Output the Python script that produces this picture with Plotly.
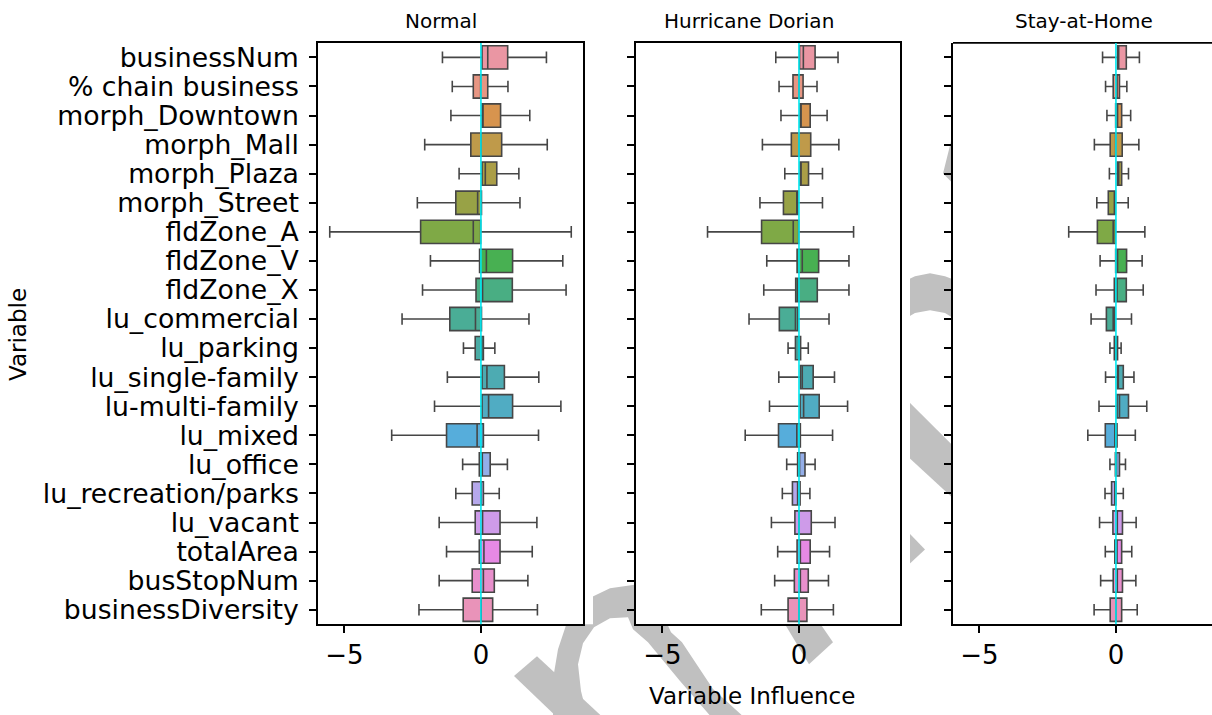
import math
import colorsys
import plotly.graph_objects as go

# ---------------- data ----------------
categories = ["businessNum", "% chain business", "morph_Downtown", "morph_Mall",
              "morph_Plaza", "morph_Street", "fldZone_A", "fldZone_V", "fldZone_X",
              "lu_commercial", "lu_parking", "lu_single-family", "lu-multi-family",
              "lu_mixed", "lu_office", "lu_recreation/parks", "lu_vacant",
              "totalArea", "busStopNum", "businessDiversity"]
panel_titles = ["Normal", "Hurricane Dorian", "Stay-at-Home"]

normal_low = [-1.41, -1.05, -1.10, -2.06, -0.80, -2.33, -5.54, -1.85, -2.14, -2.89,
              -0.64, -1.23, -1.70, -3.27, -0.67, -0.92, -1.53, -1.26, -1.53, -2.27]
normal_q1 = [0.04, -0.28, 0.04, -0.37, 0.04, -0.92, -2.21, -0.05, -0.18, -1.14,
             -0.21, 0.04, 0.04, -1.26, -0.06, -0.32, -0.21, -0.06, -0.32, -0.65]
normal_med = [0.25, -0.01, 0.06, 0.00, 0.16, -0.12, -0.28, 0.20, 0.06, -0.20,
              0.02, 0.22, 0.28, -0.14, 0.05, 0.01, 0.06, 0.11, 0.09, 0.01]
normal_q3 = [0.98, 0.25, 0.72, 0.76, 0.58, 0.02, -0.01, 1.16, 1.15, 0.02,
             0.09, 0.86, 1.16, 0.09, 0.34, 0.09, 0.70, 0.70, 0.49, 0.43]
normal_high = [2.40, 0.99, 1.79, 2.43, 1.39, 1.43, 3.31, 3.00, 3.12, 1.76,
               0.51, 2.12, 2.93, 2.11, 0.97, 0.67, 2.05, 1.88, 1.72, 2.07]

dorian_low = [-0.85, -0.73, -0.66, -1.34, -0.52, -1.43, -3.35, -1.18, -1.29, -1.83,
              -0.40, -0.74, -1.08, -1.97, -0.45, -0.61, -1.01, -0.78, -0.89, -1.38]
dorian_q1 = [0.02, -0.22, 0.04, -0.28, 0.04, -0.57, -1.37, -0.07, -0.12, -0.72,
             -0.13, 0.05, 0.04, -0.75, -0.05, -0.24, -0.15, -0.07, -0.17, -0.40]
dorian_med = [0.16, 0.00, 0.06, 0.00, 0.06, -0.08, -0.21, 0.12, -0.05, -0.13,
              -0.01, 0.12, 0.17, -0.08, 0.02, -0.05, 0.00, 0.05, 0.05, 0.00]
dorian_q3 = [0.59, 0.15, 0.41, 0.43, 0.35, -0.04, -0.01, 0.72, 0.67, -0.04,
             0.06, 0.52, 0.74, 0.05, 0.22, 0.04, 0.45, 0.41, 0.34, 0.29]
dorian_high = [1.43, 0.66, 1.03, 1.46, 0.86, 0.86, 2.00, 1.83, 1.83, 1.10,
               0.34, 1.30, 1.78, 1.23, 0.59, 0.40, 1.32, 1.12, 1.08, 1.26]

home_low = [-0.49, -0.38, -0.33, -0.79, -0.24, -0.70, -1.73, -0.58, -0.73, -0.91,
            -0.22, -0.38, -0.62, -1.03, -0.22, -0.40, -0.60, -0.39, -0.56, -0.80]
home_q1 = [0.06, -0.10, -0.01, -0.21, 0.05, -0.28, -0.68, -0.01, -0.06, -0.35,
           -0.06, 0.05, 0.04, -0.39, -0.02, -0.16, -0.11, -0.04, -0.10, -0.21]
home_med = [0.10, 0.04, 0.06, -0.01, 0.10, -0.05, -0.10, 0.06, 0.04, -0.10,
            0.00, 0.08, 0.13, -0.04, 0.02, -0.04, 0.05, 0.04, 0.05, 0.00]
home_q3 = [0.38, 0.13, 0.21, 0.23, 0.21, -0.02, -0.02, 0.39, 0.38, -0.04,
           0.06, 0.27, 0.46, 0.04, 0.13, 0.00, 0.24, 0.21, 0.24, 0.21]
home_high = [0.86, 0.40, 0.54, 0.84, 0.46, 0.45, 1.06, 0.96, 1.00, 0.57,
             0.19, 0.66, 1.13, 0.71, 0.35, 0.27, 0.74, 0.58, 0.73, 0.78]

x_ticks = [-5, 0]

panels = [
    (normal_low, normal_q1, normal_med, normal_q3, normal_high),
    (dorian_low, dorian_q1, dorian_med, dorian_q3, dorian_high),
    (home_low, home_q1, home_med, home_q3, home_high),
]

# ---------------- seaborn-like husl palette ----------------
_M = [[3.2406, -1.5372, -0.4986], [-0.9689, 1.8758, 0.0415], [0.0557, -0.2040, 1.0570]]
_refU, _refV = 0.19784, 0.46834


def _max_chroma(L, H):
    hrad = math.radians(H)
    sinH, cosH = math.sin(hrad), math.cos(hrad)
    sub1 = (L + 16) ** 3 / 1560896.0
    sub2 = sub1 if sub1 > 0.008856 else L / 903.3
    result = float("inf")
    for m1, m2, m3 in _M:
        top = (0.99915 * m1 + 1.05122 * m2 + 1.14460 * m3) * sub2
        rbottom = 0.86330 * m3 - 0.17266 * m2
        lbottom = 0.12949 * m3 - 0.38848 * m1
        bottom = (rbottom * sinH + lbottom * cosH) * sub2
        for t in (0.0, 1.0):
            C = L * (top - 1.05122 * t) / (bottom + 0.17266 * sinH * t)
            if 0.0 < C < result:
                result = C
    return result


def _husl_to_rgb(H, S, L):
    C = _max_chroma(L, H) / 100.0 * S
    hr = math.radians(H)
    U, V = math.cos(hr) * C, math.sin(hr) * C
    t = (L + 16.0) / 116.0
    Y = t ** 3 if t ** 3 > 0.008856 else (116.0 * t - 16.0) / 903.3
    varU = U / (13.0 * L) + _refU
    varV = V / (13.0 * L) + _refV
    X = 0.0 - (9.0 * Y * varU) / ((varU - 4.0) * varV - varU * varV)
    Z = (9.0 * Y - 15.0 * varV * Y - varV * X) / (3.0 * varV)
    out = []
    for row in _M:
        c = row[0] * X + row[1] * Y + row[2] * Z
        c = 12.92 * c if c <= 0.0031308 else 1.055 * c ** (1 / 2.4) - 0.055
        out.append(min(1.0, max(0.0, c)))
    return out


def husl_palette(n, h=0.01, s=0.9, l=0.7):
    cols = []
    for i in range(n):
        hue = ((i / n + h) % 1) * 359
        cols.append(_husl_to_rgb(hue, s * 99, l * 99))
    return cols


def desaturate(rgb, prop):
    hh, ll, ss = colorsys.rgb_to_hls(*rgb)
    return colorsys.hls_to_rgb(hh, ll, ss * prop)


rgb_cols = [desaturate(c, 0.75) for c in husl_palette(len(categories))]
lum = min(colorsys.rgb_to_hls(*c)[1] for c in rgb_cols) * 0.6
gray = "rgb(%d,%d,%d)" % ((round(lum * 255),) * 3)
colors = ["rgb(%d,%d,%d)" % tuple(round(v * 255) for v in c) for c in rgb_cols]

# ---------------- layout geometry ----------------
W, H = 1212, 715
FONT = "DejaVu Sans"
xdoms = [(318, 583), (636, 900), (953, 1212)]
ytop, ybot = 42, 625
xranges = [[-5.97, 3.74], [-5.97, 3.70], [-5.97, 3.52]]
title_x = [441, 749, 1084]


def px(x):
    return x / W


def py(y):
    return 1 - y / H


fig = go.Figure()

for p, (low, q1, med, q3, high) in enumerate(panels):
    xa = "x" if p == 0 else "x%d" % (p + 1)
    ya = "y" if p == 0 else "y%d" % (p + 1)
    for i, cat in enumerate(categories):
        fig.add_trace(go.Box(
            y=[cat], q1=[q1[i]], median=[med[i]], q3=[q3[i]],
            lowerfence=[low[i]], upperfence=[high[i]],
            orientation="h", fillcolor=colors[i],
            line=dict(color=gray, width=1.6),
            whiskerwidth=0.5, width=0.8, boxpoints=False,
            xaxis=xa, yaxis=ya, showlegend=False, hoverinfo="skip"))

axis_common = dict(showgrid=False, zeroline=False, linecolor="black", linewidth=1.6,
                   ticks="outside", ticklen=7, tickwidth=1.5, tickcolor="black",
                   tickfont=dict(family=FONT, size=26, color="black"))

layout = dict(width=W, height=H, margin=dict(l=0, r=0, t=0, b=0),
              paper_bgcolor="white", plot_bgcolor="white", boxmode="overlay",
              font=dict(family=FONT, color="black"), showlegend=False)

for p in range(3):
    sx = "" if p == 0 else str(p + 1)
    mirror = p < 2
    layout["xaxis" + sx] = dict(axis_common, domain=[px(xdoms[p][0]), px(xdoms[p][1])],
                                range=xranges[p], tickvals=x_ticks, anchor="y" + sx,
                                showline=True, mirror=mirror)
    layout["yaxis" + sx] = dict(axis_common, domain=[py(ybot), py(ytop)],
                                type="category", categoryorder="array",
                                categoryarray=categories, range=[19.5, -0.5],
                                tickmode="linear", tick0=0, dtick=1,
                                tickfont=dict(family=FONT, size=26.7, color="black"),
                                anchor="x" + sx, showline=True, mirror=mirror,
                                showticklabels=(p == 0), ticklabelstandoff=5)

fig.update_layout(**layout)

# ---------------- watermark (behind the axes) ----------------
def poly(points):
    s = "M " + " L ".join("%.5f,%.5f" % (px(x), py(y)) for x, y in points) + " Z"
    return s


wm_color = "#c0c0c0"
watermark = [
    # arch near the bottom
    [(553, 720), (553, 680), (558, 650), (568, 620), (585, 601), (610, 589), (638, 585),
     (656, 600), (671, 633), (682, 643), (713, 690), (746, 720),
     (713, 720), (680, 682), (648, 643), (633, 630), (628, 618), (610, 619), (594, 628),
     (583, 644), (578, 665), (581, 692), (588, 720)],
    # lower-left stroke of a V
    [(514, 677), (537, 657), (610, 725), (585, 745)],
    # stroke below the second panel
    [(770, 600), (800, 595), (833, 643), (809, 665)],
    # wedge left of third panel
    [(952, 137), (943, 173), (960, 190), (975, 130)],
    # arch between panels 2 and 3
    [(898, 284), (915, 276), (930, 273), (945, 276), (958, 281),
     (958, 321), (945, 313), (930, 310), (915, 313), (898, 323)],
    # diagonal band
    [(895, 388), (962, 455), (962, 507), (895, 445)],
    # triangle
    [(897, 521), (925, 550), (897, 576)],
]
shapes = []
for pts in watermark:
    shapes.append(dict(type="path", path=poly(pts), xref="paper", yref="paper",
                       fillcolor=wm_color, line=dict(width=0), layer="below"))
# white faces of the axes hide the watermark inside the panels
for (x0, x1) in xdoms:
    shapes.append(dict(type="rect", xref="paper", yref="paper",
                       x0=px(x0), x1=px(x1 + 10), y0=py(ybot), y1=py(ytop),
                       fillcolor="white", line=dict(width=0), layer="below"))
# top spine of the third panel (right spine is cropped away)
shapes.append(dict(type="line", xref="paper", yref="paper", x0=px(953), x1=1.0,
                   y0=py(ytop), y1=py(ytop), line=dict(color="black", width=1.6),
                   layer="above"))
# cyan reference line at zero in every panel
for p in range(3):
    sx = "" if p == 0 else str(p + 1)
    shapes.append(dict(type="line", xref="x" + sx, yref="y%s domain" % sx,
                       x0=0, x1=0, y0=0, y1=1, line=dict(color="#00e8f0", width=1.6),
                       layer="above"))
fig.update_layout(shapes=shapes)

# ---------------- titles / labels ----------------
annotations = []
for p, t in enumerate(panel_titles):
    annotations.append(dict(text=t, xref="paper", yref="paper",
                            x=px(title_x[p]), y=py(20), showarrow=False,
                            xanchor="center", yanchor="middle",
                            font=dict(family=FONT, size=20, color="black")))
annotations.append(dict(text="Variable Influence", xref="paper", yref="paper",
                        x=px(752), y=py(697), showarrow=False, xanchor="center",
                        yanchor="middle", font=dict(family=FONT, size=23, color="black")))
annotations.append(dict(text="Variable", xref="paper", yref="paper",
                        x=px(18), y=py(335), showarrow=False, textangle=-90,
                        xanchor="center", yanchor="middle",
                        font=dict(family=FONT, size=23, color="black")))
fig.update_layout(annotations=annotations)

fig.write_html("out.html")
